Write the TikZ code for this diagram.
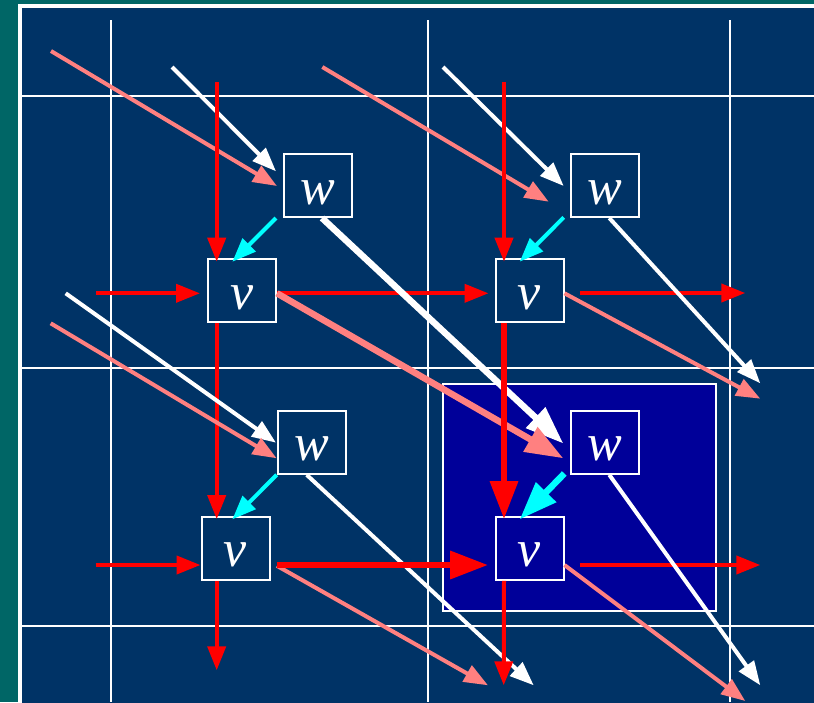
\documentclass[tikz,border=0pt]{standalone}
\usepackage{fontspec}
\setmainfont{Liberation Serif}
\usetikzlibrary{arrows.meta,calc}
\definecolor{teal0}{HTML}{006666}
\definecolor{navy0}{HTML}{003366}
\definecolor{hiblue}{HTML}{000099}
\definecolor{salmon0}{HTML}{FF8080}
\definecolor{red0}{HTML}{FF0000}
\definecolor{cyan0}{HTML}{00FFFF}
\begin{document}
\begin{tikzpicture}[x=1pt,y=-1pt,
  gridline/.style={white,line width=2pt},
  cell/.style={draw=white,line width=2pt,fill=navy0,minimum width=68pt,minimum height=63pt,
    inner sep=0pt,text=white,font=\fontsize{52}{52}\selectfont\itshape,text height=37pt,text depth=0pt},
  hicell/.style={cell,fill=hiblue},
  arr/.style={line width=4pt,-{Triangle[length=24pt,width=18pt]}},
  arrthick/.style={line width=6.5pt,-{Triangle[length=38pt,width=27pt]}},
]
\useasboundingbox (0,0) rectangle (814,702);
% background
\fill[teal0] (0,0) rectangle (814,702);
\filldraw[fill=navy0,draw=white,line width=3.5pt] (19.8,6) rectangle (830,720);
% grid
\draw[gridline] (110.5,20) -- (110.5,702);
\draw[gridline] (428,20) -- (428,702);
\draw[gridline] (730.3,20) -- (730.3,702);
\draw[gridline] (21.5,96.3) -- (814,96.3);
\draw[gridline] (21.5,368.3) -- (814,368.3);
\draw[gridline] (21.5,625.7) -- (814,625.7);
% highlight
\filldraw[fill=hiblue,draw=white,line width=2pt] (443,383.7) rectangle (716.3,611);
% nodes
\node[cell] (w1) at (318,185.5) {w};
\node[cell] (v1) at (242,290.8) {v};
\node[cell] (w2) at (605.3,185.5) {w};
\node[cell] (v2) at (529.5,290.8) {v};
\node[cell] (w3) at (311.7,442.3) {w};
\node[cell] (v3) at (235.5,548.3) {v};
\node[hicell] (w4) at (605.3,442.3) {w};
\node[hicell] (v4) at (529.5,548.3) {v};
% free ends
\coordinate (s1) at (51,51);
\coordinate (s2) at (172,67);
\coordinate (s3) at (216.7,82);
\coordinate (s4) at (96,293.3);
\coordinate (s10) at (443,67);
\coordinate (s11) at (322.3,67);
\coordinate (s12) at (504,82);
\coordinate (e14) at (745.3,293);
\coordinate (e15) at (760.3,398.7);
\coordinate (e16) at (760.3,383.3);
\coordinate (s18) at (65.7,293.3);
\coordinate (s19) at (50.7,323.3);
\coordinate (s20) at (95.7,565);
\coordinate (e22) at (533.7,685.3);
\coordinate (e24) at (488,685.3);
\coordinate (e25) at (216.7,670.3);
\coordinate (e27) at (503.7,685.3);
\coordinate (e28) at (760.3,565);
\coordinate (e29) at (745.3,701);
\coordinate (e30) at (760.3,685.3);
% cell 1
\draw[arr,salmon0] (s1) -- ($(w1.west)+(-6,0.5)$);
\draw[arr,white] (s2) -- ($(w1.north west)+(-7,18.3)$);
\draw[arr,red0] (s3) -- ($(v1.north)+(-25.3,3.4)$);
\draw[arr,red0] (s4) -- ($(v1.west)+(-7,2.5)$);
\draw[arr,cyan0] ($(w1.south west)+(-7,0)$) -- ($(v1.north)+(-9.7,3.5)$);
\draw[arr,red0] ($(v1.east)+(0,2.5)$) -- ($(v2.west)+(-6,2.5)$);
\draw[arr,red0] ($(v1.south)+(-25.3,0)$) -- ($(v3.north)+(-18.8,3.3)$);
% cell 2
\draw[arr,white] (s10) -- ($(w2.west)+(-6.6,0.5)$);
\draw[arr,salmon0] (s11) -- ($(w2.west)+(-21.6,16.2)$);
\draw[arr,red0] (s12) -- ($(v2.north)+(-25.5,3.4)$);
\draw[arr,cyan0] ($(w2.south west)+(-6.6,-0.6)$) -- ($(v2.north)+(-9.8,3.4)$);
\draw[arr,red0] ($(v2.east)+(15,2.2)$) -- (e14);
\draw[arr,salmon0] ($(v2.east)+(0,2.5)$) -- (e15);
\draw[arr,white] ($(w2.south)+(4,0)$) -- (e16);
% cell 3
\draw[arr,white] (s18) -- ($(w3.west)+(-0.7,0.4)$);
\draw[arr,salmon0] (s19) -- ($(w3.west)+(0,16)$);
\draw[arr,red0] (s20) -- ($(v3.west)+(0,16.7)$);
\draw[arr,cyan0] (w3.south west) -- ($(v3.north)+(-3.2,3.6)$);
\draw[arr,white] ($(w3.south)+(-5,0)$) -- (e22);
\draw[arr,salmon0] ($(v3.east)+(6.4,17.5)$) -- (e24);
\draw[arr,red0] ($(v3.south)+(-18.8,0)$) -- (e25);
% cell 4 (highlighted dependencies)
\draw[arrthick,white] ($(w1.south)+(4,0)$) -- ($(w4.west)+(-7,1.2)$);
\draw[arrthick,salmon0] ($(v1.east)+(0,2.5)$) -- ($(w4.west)+(-7,16)$);
\draw[arrthick,red0] ($(v2.south)+(-25.5,0)$) -- ($(v4.north)+(-25.5,3.3)$);
\draw[arrthick,red0] ($(v3.east)+(6.4,16.7)$) -- ($(v4.west)+(-6.4,16.7)$);
\draw[arrthick,cyan0] ($(w4.south west)+(-6,-1.3)$) -- ($(v4.north)+(-9.8,3.6)$);
\draw[arr,red0] ($(v4.south)+(-25.5,0)$) -- (e27);
\draw[arr,red0] ($(v4.east)+(15,16.7)$) -- (e28);
\draw[arr,salmon0] ($(v4.east)+(0,16.7)$) -- (e29);
\draw[arr,white] ($(w4.south)+(4,0)$) -- (e30);
\end{tikzpicture}
\end{document}
